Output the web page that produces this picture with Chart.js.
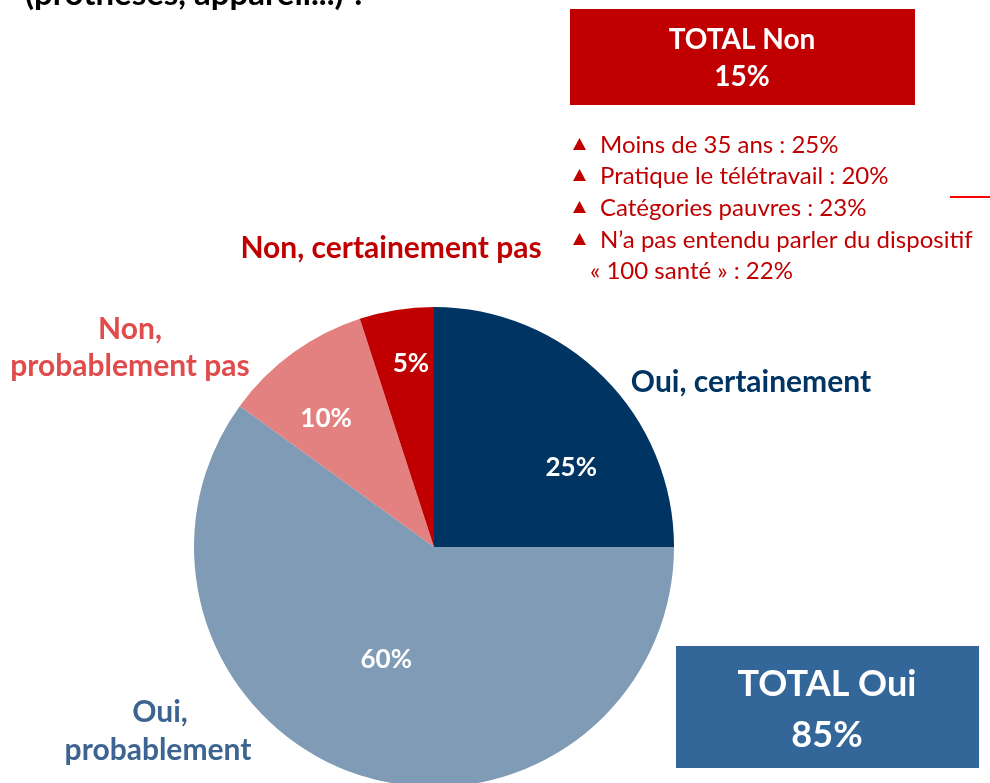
<!DOCTYPE html>
<html><head><meta charset="utf-8">
<script src="https://cdn.jsdelivr.net/npm/chart.js@4/dist/chart.umd.min.js"></script>
<style>
html,body{margin:0;padding:0;background:#fff;overflow:hidden;width:990px;height:783px;}
#wrap{position:relative;width:990px;height:830px;}
</style></head>
<body>
<div id="wrap"><canvas id="c" width="990" height="830"></canvas></div>
<script>
const categories = ["Oui, certainement", "Oui, probablement", "Non, probablement pas", "Non, certainement pas"];
const values = [25, 60, 10, 5];
const pctLabels = ["25%", "60%", "10%", "5%"];
const totalNon = "15%";
const totalOui = "85%";
const bulletItems = ["Moins de 35 ans : 25%", "Pratique le télétravail : 20%", "Catégories pauvres : 23%", "N’a pas entendu parler du dispositif", "« 100 santé » : 22%"];
const titleText = "(prothèses, appareil...) ?";

const sliceColors = ["#003462", "#7f9bb5", "#e38080", "#c00000"];
const catColors = ["#003462", "#3d6491", "#e04c4c", "#c00000"];
const FONT = "Lato, 'Open Sans', sans-serif";

// label placement inside slices: [fraction of slice angle, fraction of radius]
const inLabelPos = [[0.667, 0.66], [0.523, 0.51], [0.39, 0.70], [0.6, 0.77]];

const overlay = {
  id: 'overlay',
  afterDatasetsDraw(chart) {
    const ctx = chart.ctx;
    const meta = chart.getDatasetMeta(0);
    ctx.save();
    ctx.textAlign = 'center';
    ctx.textBaseline = 'middle';
    ctx.fillStyle = '#ffffff';
    ctx.font = "bold 26px " + FONT;
    meta.data.forEach((arc, i) => {
      const p = inLabelPos[i];
      const a = arc.startAngle + (arc.endAngle - arc.startAngle) * p[0];
      const r = arc.outerRadius * p[1];
      ctx.fillText(pctLabels[i], arc.x + Math.cos(a) * r, arc.y + Math.sin(a) * r);
    });

    // category labels
    ctx.font = "bold 30px " + FONT;
    ctx.fillStyle = catColors[0];
    ctx.fillText(categories[0], 751, 382);
    ctx.fillStyle = catColors[3];
    ctx.fillText(categories[3], 391, 248);
    ctx.fillStyle = catColors[2];
    ctx.fillText("Non,", 130, 329);
    ctx.fillText("probablement pas", 130, 366);
    ctx.fillStyle = catColors[1];
    ctx.fillText("Oui,", 160, 712);
    ctx.fillText("probablement", 158, 750);

    // title (clipped)
    ctx.textAlign = 'left';
    ctx.textBaseline = 'alphabetic';
    ctx.fillStyle = '#000000';
    ctx.font = "bold 33px " + FONT;
    ctx.fillText(titleText, 25, 5);

    // TOTAL Non box
    ctx.fillStyle = '#c00000';
    ctx.fillRect(570, 9, 345, 96);
    ctx.fillStyle = '#ffffff';
    ctx.textAlign = 'center';
    ctx.textBaseline = 'middle';
    ctx.font = "bold 28px " + FONT;
    ctx.fillText("TOTAL Non", 742, 40);
    ctx.fillText(totalNon, 742, 77);

    // bullets
    ctx.textAlign = 'left';
    ctx.font = "24px " + FONT;
    const ys = [145, 176, 208, 240];
    bulletItems.forEach((t, i) => {
      ctx.fillStyle = '#c00000';
      if (i < 4) {
        const y = ys[i];
        ctx.beginPath();
        ctx.moveTo(573, y + 5);
        ctx.lineTo(586, y + 5);
        ctx.lineTo(579.5, y - 7);
        ctx.closePath();
        ctx.fill();
        ctx.fillText(t, 600, y);
      } else {
        ctx.fillText(t, 590, 271);
      }
    });

    // small red line
    ctx.strokeStyle = '#ff0000';
    ctx.lineWidth = 2;
    ctx.beginPath();
    ctx.moveTo(950, 197);
    ctx.lineTo(990, 197);
    ctx.stroke();

    // TOTAL Oui box
    ctx.fillStyle = '#336699';
    ctx.fillRect(676, 646, 303, 122);
    ctx.fillStyle = '#ffffff';
    ctx.textAlign = 'center';
    ctx.font = "bold 36px " + FONT;
    ctx.fillText("TOTAL Oui", 827, 684);
    ctx.fillText(totalOui, 827, 735);
    ctx.restore();
  }
};

new Chart(document.getElementById('c'), {
  type: 'pie',
  data: {
    labels: categories,
    datasets: [{
      data: values,
      backgroundColor: sliceColors,
      borderWidth: 0
    }]
  },
  options: {
    responsive: false,
    animation: false,
    layout: { padding: { left: 194, right: 316, top: 307, bottom: 43 } },
    plugins: { legend: { display: false }, tooltip: { enabled: false } }
  },
  plugins: [overlay]
});
</script>
</body></html>
